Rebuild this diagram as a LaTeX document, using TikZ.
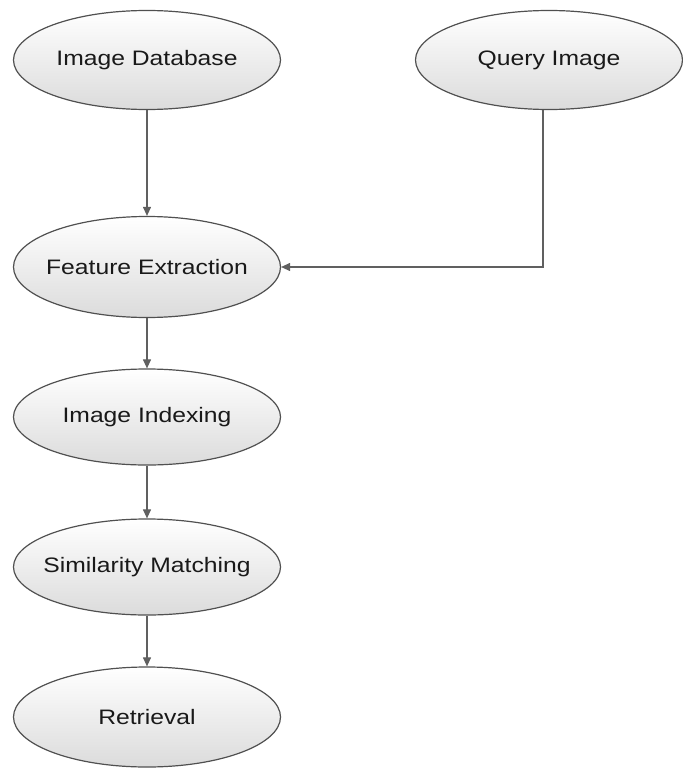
\documentclass[tikz,border=0pt]{standalone}
\usepackage{fontspec}
\setmainfont{Liberation Sans}
\newfontfamily\lblfont[FakeStretch=1.18]{Liberation Sans}
\usetikzlibrary{shapes.geometric,arrows.meta}
\definecolor{edgegray}{HTML}{505050}
\definecolor{arrowgray}{HTML}{606060}
\tikzset{
  proc/.style={ellipse, draw=edgegray, line width=1.2bp, top color=white, bottom color=gray!28,
    minimum width=267bp, minimum height=99bp, inner xsep=-20bp, inner ysep=0pt,
    font=\lblfont\fontsize{21}{25}\selectfont, text=black!90},
  conn/.style={draw=arrowgray, line width=1.1bp, -{Triangle[length=9bp,width=8bp]}}
}
\begin{document}
\begin{tikzpicture}[x=1bp,y=-1bp]
\useasboundingbox (0,0) rectangle (683,775);
\node[proc] (idb) at (147,60) {Image Database};
\node[proc] (qi) at (549,60) {Query Image};
\node[proc, minimum height=101bp] (fe) at (147,267) {Feature Extraction};
\node[proc, minimum height=96bp] (ii) at (147,417) {Image Indexing};
\node[proc, minimum height=96bp] (sm) at (147,567) {Similarity Matching};
\node[proc, minimum height=100bp] (ret) at (147,717) {Retrieval};
\draw[conn] (idb.south) -- (fe.north);
\draw[conn] ([xshift=-6bp]qi.south) |- (fe.east);
\draw[conn] (fe.south) -- (ii.north);
\draw[conn] (ii.south) -- (sm.north);
\draw[conn] (sm.south) -- (ret.north);
\end{tikzpicture}
\end{document}
